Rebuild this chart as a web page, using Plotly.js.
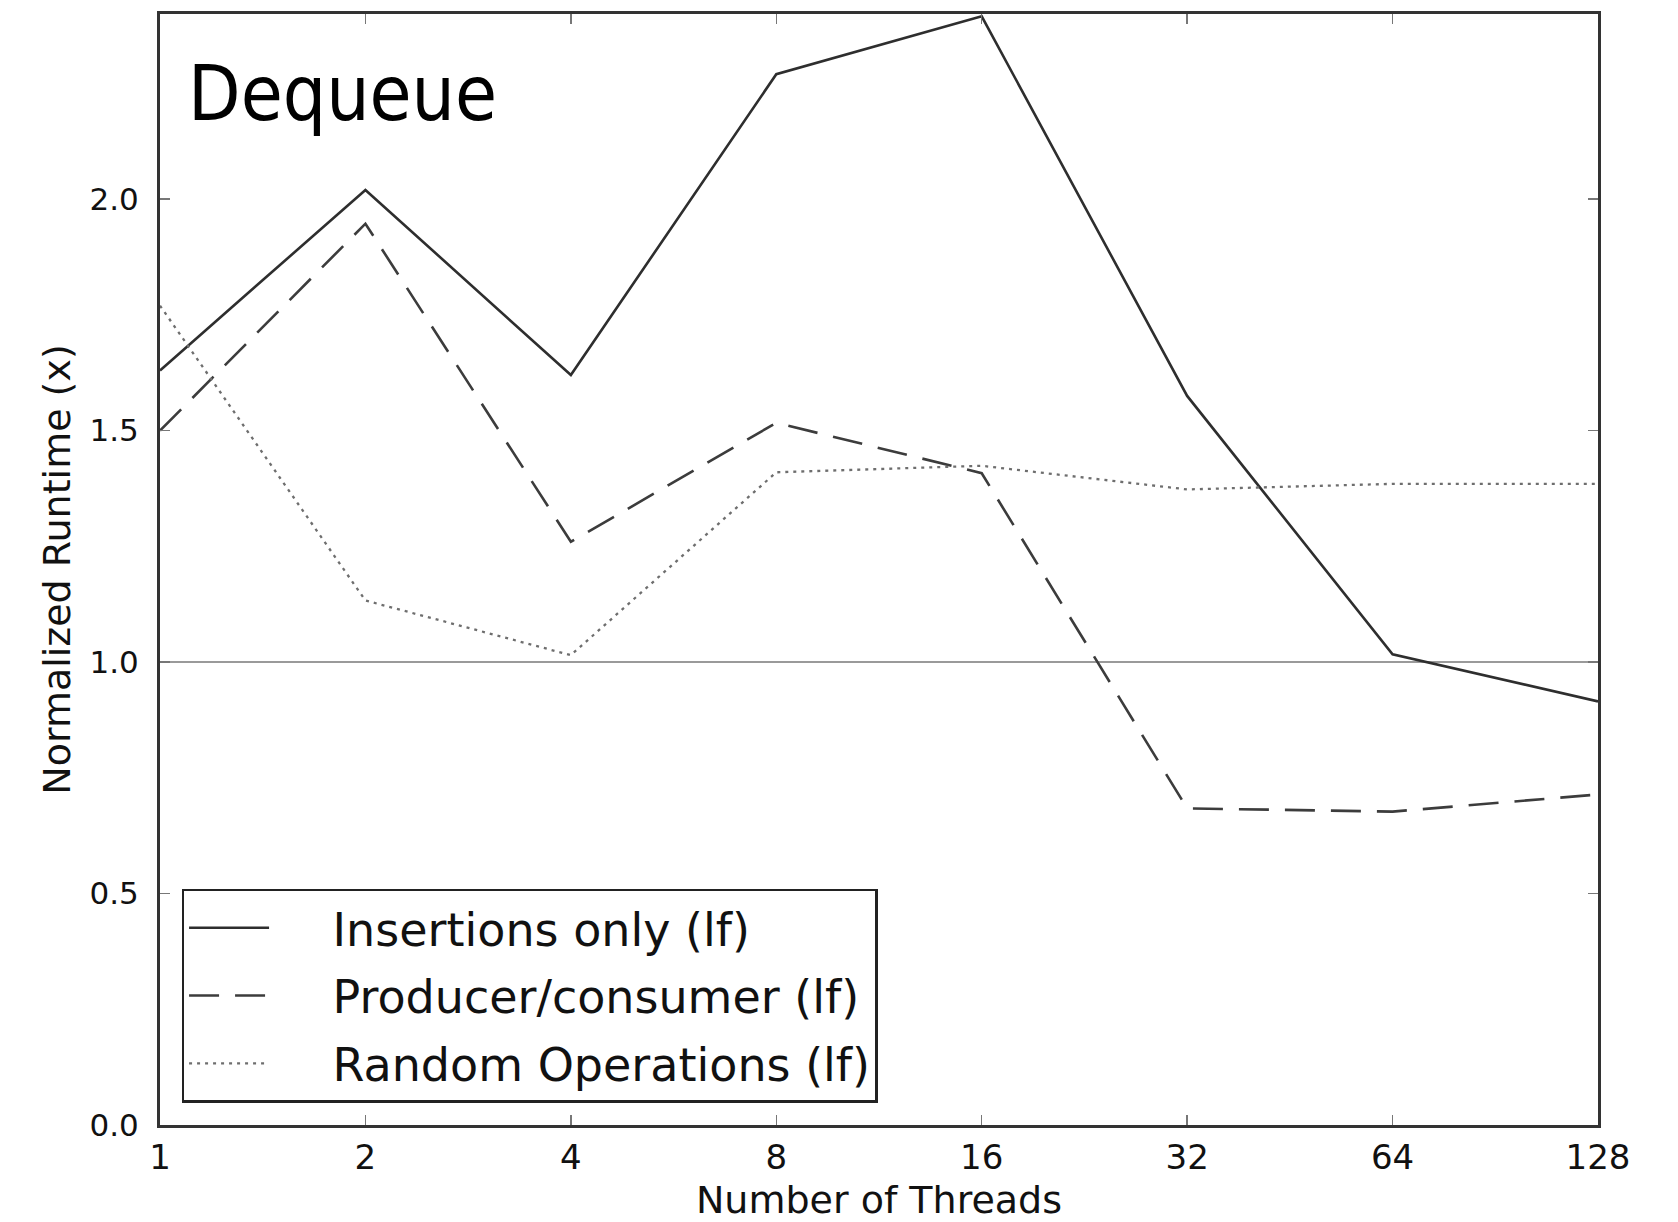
<!DOCTYPE html>
<html>
<head>
<meta charset="utf-8">
<script src="https://cdn.plot.ly/plotly-3.0.1.min.js"></script>
<style>
html,body{margin:0;padding:0;background:#fff;}
#chart{width:1678px;height:1222px;}
</style>
</head>
<body>
<div id="chart"></div>
<script>
const threads = [1, 2, 4, 8, 16, 32, 64, 128];
const tickLabels = ["1", "2", "4", "8", "16", "32", "64", "128"];
const insertionsOnly = [1.63, 2.02, 1.62, 2.27, 2.395, 1.575, 1.017, 0.915];
const producerConsumer = [1.50, 1.947, 1.26, 1.517, 1.408, 0.684, 0.677, 0.714];
const randomOps = [1.77, 1.133, 1.015, 1.41, 1.424, 1.373, 1.385, 1.385];
const seriesNames = ["Insertions only (lf)", "Producer/consumer (lf)", "Random Operations (lf)"];
const yTicks = [0.0, 0.5, 1.0, 1.5, 2.0];

const pad = "\u00A0\u00A0\u00A0\u00A0";
const traces = [
  {x: threads, y: insertionsOnly, name: pad + seriesNames[0], mode: "lines", legendgroup: "a",
   line: {color: "#2e2e2e", width: 2.6, dash: "solid"}},
  {x: threads, y: producerConsumer, name: pad + seriesNames[1], mode: "lines", legendgroup: "b",
   line: {color: "#3c3c3c", width: 2.6, dash: "30px,16px"}},
  {x: threads, y: randomOps, name: pad + seriesNames[2], mode: "lines", legendgroup: "c",
   line: {color: "#6e6e6e", width: 2.3, dash: "3px,5px"}}
];

const layout = {
  width: 1678, height: 1222,
  paper_bgcolor: "#fff", plot_bgcolor: "#fff",
  margin: {l: 160, r: 80, t: 14, b: 97},
  showlegend: true,
  font: {family: "DejaVu Sans", color: "#111"},
  xaxis: {
    type: "log", range: [0, Math.log10(128)],
    tickvals: threads, ticktext: tickLabels,
    ticks: "inside", ticklen: 10, tickwidth: 1.5, tickcolor: "#777",
    showgrid: false, zeroline: false,
    showline: true, linecolor: "#333", linewidth: 3, mirror: "ticks",
    tickfont: {size: 34, family: "DejaVu Sans", color: "#111"},
    title: {text: "Number of Threads", font: {size: 38, family: "DejaVu Sans", color: "#111"}, standoff: 14}
  },
  yaxis: {
    range: [0, 2.4],
    tickvals: yTicks, tickformat: ".1f",
    ticks: "inside", ticklen: 10, tickwidth: 1.5, tickcolor: "#777",
    ticklabelstandoff: 12,
    showgrid: false, zeroline: false,
    showline: true, linecolor: "#333", linewidth: 3, mirror: "ticks",
    tickfont: {size: 31, family: "DejaVu Sans", color: "#111"},
    title: {text: "Normalized Runtime (x)", font: {size: 38, family: "DejaVu Sans", color: "#111"}, standoff: 8}
  },
  legend: {
    x: 0.015, y: 0.02, xanchor: "left", yanchor: "bottom",
    bgcolor: "#fff", bordercolor: "#222", borderwidth: 2.5,
    font: {size: 46, family: "DejaVu Sans", color: "#111"},
    itemwidth: 80, tracegroupgap: 5
  },
  shapes: [
    {type: "line", xref: "paper", x0: 0, x1: 1, yref: "y", y0: 1, y1: 1,
     line: {color: "#9a9a9a", width: 2}, layer: "below"}
  ],
  annotations: [
    {text: "Dequeue", xref: "paper", yref: "paper", x: 0.018, y: 0.970,
     xanchor: "left", yanchor: "top", showarrow: false,
     font: {size: 76, family: "DejaVu Sans Condensed, Liberation Sans Narrow, Roboto Condensed, Liberation Sans", weight: 300, color: "#000"}}
  ]
};

Plotly.newPlot("chart", traces, layout, {displayModeBar: false, staticPlot: true});
</script>
</body>
</html>
